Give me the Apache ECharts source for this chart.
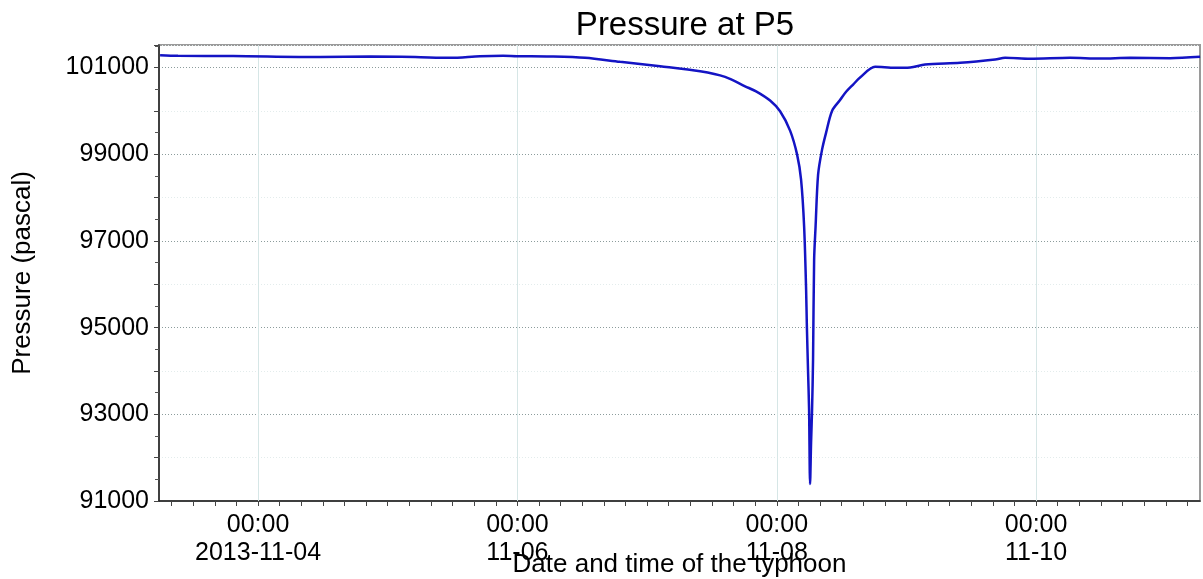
<!DOCTYPE html>
<html>
<head>
<meta charset="utf-8">
<script src="https://cdn.jsdelivr.net/npm/echarts@6/dist/echarts.min.js"></script>
<style>
    html, body {margin: 0; padding: 0; background: #fff;}
    #chart {width: 1203px; height: 579px;}
</style>
</head>
<body>
<div id="chart"></div>
<script>
    // time of reading (month-day hour:minute, 2013)
    var times = [
        '11-03 05:52', '11-03 09:11', '11-03 19:22', '11-04 11:29', '11-04 20:44',
        '11-05 05:04', '11-05 11:32', '11-05 17:05', '11-05 21:21', '11-05 23:56',
        '11-06 06:03', '11-06 12:31', '11-06 19:00', '11-07 02:25', '11-07 09:49',
        '11-07 14:26', '11-07 18:08', '11-07 20:20', '11-07 22:46', '11-08 00:37',
        '11-08 02:28', '11-08 03:46', '11-08 04:30', '11-08 05:04', '11-08 05:26',
        '11-08 05:34', '11-08 05:48', '11-08 05:59', '11-08 06:10', '11-08 06:21',
        '11-08 06:32', '11-08 06:43', '11-08 06:55', '11-08 07:11', '11-08 07:39',
        '11-08 08:23', '11-08 09:08', '11-08 10:14', '11-08 11:43', '11-08 12:50',
        '11-08 14:08', '11-08 15:25', '11-08 18:12', '11-08 21:54', '11-09 00:41',
        '11-09 03:27', '11-09 09:56', '11-09 16:25', '11-09 18:16', '11-09 22:53',
        '11-10 06:17', '11-10 11:51', '11-10 17:24', '11-11 00:48', '11-11 06:21'
    ];
    // pressure (Pa)
    var pressure = [
        101284, 101270, 101266, 101243, 101254,
        101243, 101224, 101261, 101270, 101261,
        101254, 101224, 101132, 101030, 100915,
        100785, 100568, 100440, 100238, 99991,
        99545, 98991, 98413, 97328, 95873,
        95065, 93956, 93102, 91393, 92340,
        93102, 94256, 96566, 97328, 98529,
        99106, 99499, 100000, 100250, 100440,
        100608, 100769, 101016, 100993, 101000,
        101069, 101109, 101185, 101224, 101201,
        101224, 101208, 101224, 101215, 101247
    ];
    // labelled times and axis range
    var labelTimes = ['11-04 00:00', '11-06 00:00', '11-08 00:00', '11-10 00:00'];
    var xMin = '11-03 05:40';
    var xMax = '11-11 06:20';
    var yMin = 91000;
    var yMax = 101520;

    // hours since 2013-11-03 00:00
    function toHours(s) {
        var day = parseInt(s.substr(3, 2), 10);
        var hh = parseInt(s.substr(6, 2), 10);
        var mm = parseInt(s.substr(9, 2), 10);
        return (day - 3) * 24 + hh + mm / 60;
    }

    function hourLabel(h) {
        var day = 3 + Math.floor(h / 24);
        var dd = (day < 10 ? '0' : '') + day;
        if (Math.abs(h - 24) < 0.01) {
            return '00:00\n2013-11-' + dd;
        }
        return '00:00\n11-' + dd;
    }

    var seriesData = [];
    for (var i = 0; i < times.length; i++) {
        seriesData.push([toHours(times[i]), pressure[i]]);
    }
    var labelHours = labelTimes.map(toHours);
    var tickHours = [];
    for (var t = 8; t <= 196; t += 4) {
        tickHours.push(t);
    }

    var myChart = echarts.init(document.getElementById('chart'));
    var font = 'Liberation Sans, Arial, sans-serif';
    myChart.setOption({
        animation: false,
        title: {
            text: 'Pressure at P5',
            left: 680,
            textAlign: 'center',
            top: 4,
            textStyle: {fontFamily: font, fontSize: 33, fontWeight: 'normal', color: '#000'}
        },
        grid: {
            left: 159,
            right: 3,
            top: 45,
            bottom: 78,
            outerBoundsMode: 'none',
            containLabel: false,
            show: true,
            borderColor: '#9a9a9a',
            borderWidth: 2,
            backgroundColor: '#fff'
        },
        xAxis: {
            type: 'value',
            min: toHours(xMin),
            max: toHours(xMax),
            name: 'Date and time of the typhoon',
            nameLocation: 'middle',
            nameGap: 51,
            nameMoveOverlap: false,
            nameTextStyle: {fontFamily: font, fontSize: 26, color: '#000'},
            axisLine: {show: true, onZero: false, lineStyle: {color: '#222', width: 1.5}},
            axisTick: {show: true, length: 5, customValues: tickHours, lineStyle: {color: '#444'}},
            axisLabel: {
                customValues: labelHours,
                margin: 10,
                fontFamily: font,
                fontSize: 25,
                lineHeight: 28,
                color: '#000',
                formatter: hourLabel
            },
            splitLine: {show: false}
        },
        yAxis: {
            type: 'value',
            min: yMin,
            max: yMax,
            interval: 1000,
            name: 'Pressure (pascal)',
            nameLocation: 'middle',
            nameGap: 123,
            nameMoveOverlap: false,
            nameTextStyle: {fontFamily: font, fontSize: 26, color: '#000'},
            axisLine: {show: true, lineStyle: {color: '#222', width: 1.5}},
            axisTick: {show: true, length: 5, lineStyle: {color: '#444'}},
            minorTick: {show: true, splitNumber: 2, length: 4, lineStyle: {color: '#555'}},
            axisLabel: {
                margin: 10,
                fontFamily: font,
                fontSize: 25,
                color: '#000',
                formatter: function (v) {
                    return v % 2000 === 1000 ? String(v) : '';
                }
            },
            splitLine: {
                show: true,
                lineStyle: {color: ['#8c9c9c', '#e3ecec'], type: [1, 2], width: 1}
            }
        },
        series: [
            {
                type: 'line',
                data: seriesData,
                showSymbol: false,
                smooth: 0.3,
                z: 3,
                lineStyle: {color: '#1414c4', width: 2.5},
                markLine: {
                    silent: true,
                    z: 1,
                    symbol: 'none',
                    label: {show: false},
                    lineStyle: {color: '#d6e6e6', type: 'solid', width: 1},
                    data: labelHours.map(function (h) {
                        return {xAxis: h};
                    })
                }
            }
        ]
    });
</script>
</body>
</html>
